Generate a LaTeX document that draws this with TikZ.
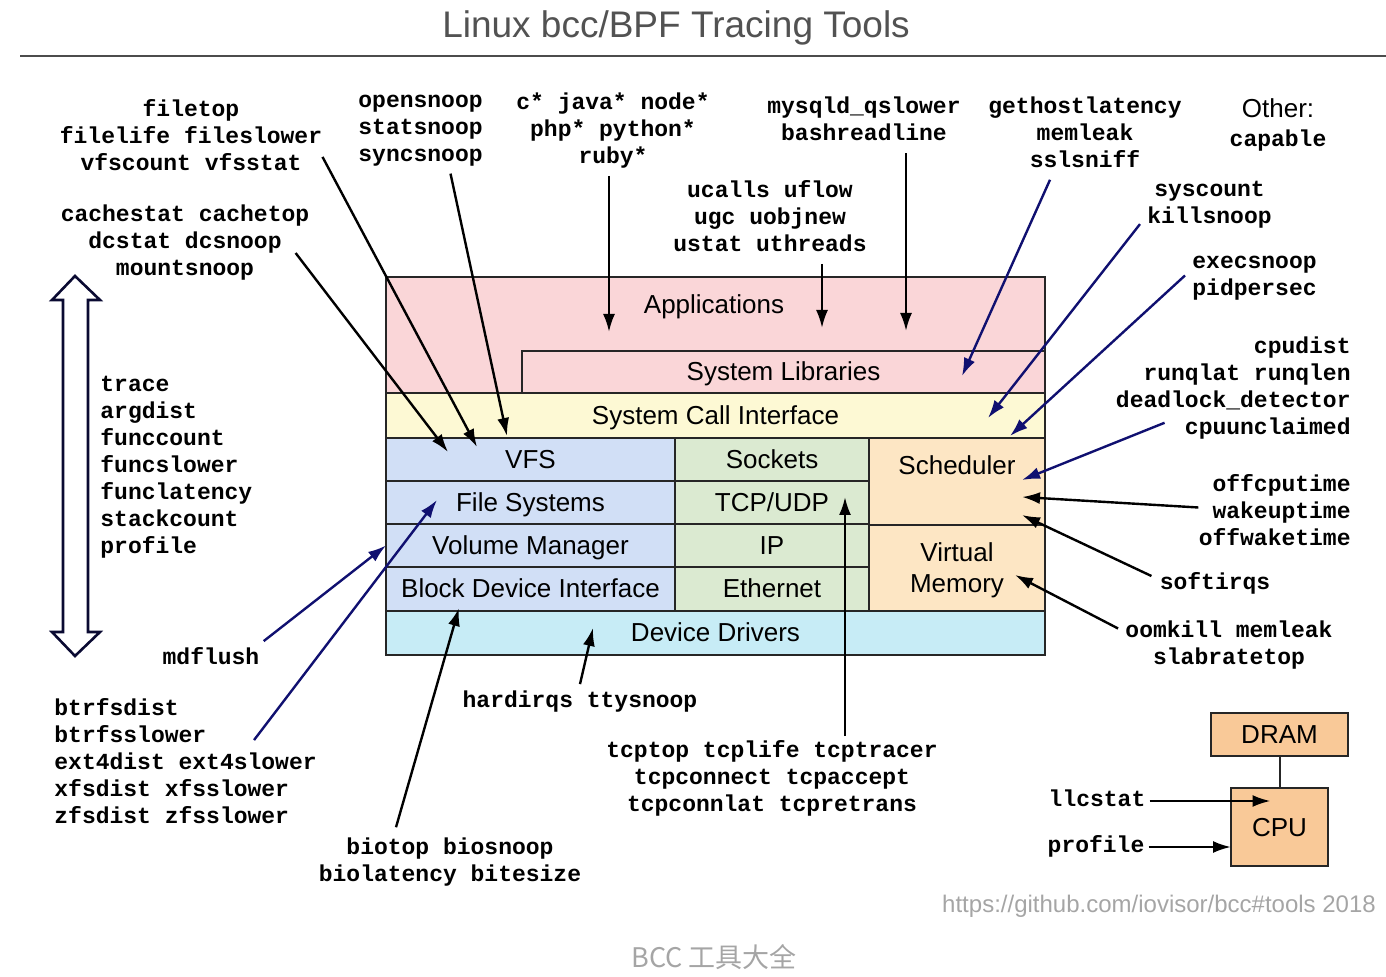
\documentclass[tikz,border=0pt]{standalone}
\usepackage{fontspec}
\setmainfont{Liberation Sans}
\newfontfamily\toolmono{Liberation Mono}
\newfontfamily\cjkfont{Noto Sans CJK SC}
\usetikzlibrary{positioning,arrows.meta,calc}
\definecolor{appcol}{RGB}{250,214,216}
\definecolor{scicol}{RGB}{253,249,212}
\definecolor{fscol}{RGB}{209,223,246}
\definecolor{netcol}{RGB}{219,234,209}
\definecolor{cpucol}{RGB}{253,230,196}
\definecolor{drvcol}{RGB}{199,236,246}
\definecolor{chipcol}{RGB}{249,201,152}
\definecolor{navyarr}{RGB}{16,16,112}
\definecolor{navydark}{RGB}{10,10,50}
\definecolor{greytext}{RGB}{165,165,165}
\tikzset{
  stackbox/.style={ % one layer of the kernel stack
    draw=black!85, line width=1pt, rectangle,
    inner sep=0pt, outer sep=0pt, text=black, align=center,
    font=\fontsize{13}{15.5}\selectfont,
    text height=9.4pt, text depth=0.4pt
  },
  stacktext/.style={ % label placed inside a layer
    font=\fontsize{13}{15.5}\selectfont, inner sep=0pt,
    text height=9.4pt, text depth=0.4pt
  },
  toolnames/.style={ % a group of bcc tool names
    font=\toolmono\bfseries\fontsize{11.5}{13.5}\selectfont,
    align=center, inner sep=2pt, yshift=-2pt,
    execute at begin node=\strut, execute at end node=\strut
  },
  probe/.style={-{Latex[length=9pt,width=6pt]}, line width=1.2pt, black},
  probenavy/.style={probe, navyarr}
}

\begin{document}
\begin{tikzpicture}[x=0.5pt, y=-0.5pt]
  \useasboundingbox (0,0) rectangle (1386,977);

  % title
  \node[font=\fontsize{18.5}{22}\selectfont, text=black!68] (title) at (676,28) {Linux bcc/BPF Tracing Tools};
  \draw[black!70, line width=0.8pt] (20,56) -- (1386,56);

  % kernel stack
  \node[stackbox, fill=appcol, minimum width=329.5pt, minimum height=58pt, anchor=north west] (apps) at (386,277) {};
  \node[stackbox, fill=appcol, minimum width=261.5pt, minimum height=21pt, anchor=south east] (syslib) at (apps.south east) {System Libraries};
  \node[stackbox, fill=scicol, minimum width=329.5pt, minimum height=22.5pt, below=0pt of apps] (sci) {System Call Interface};
  \node[stackbox, fill=fscol, minimum width=144.5pt, minimum height=21.5pt, below right=0pt and 0pt of sci.south west] (vfs) {VFS};
  \node[stackbox, fill=fscol, minimum width=144.5pt, minimum height=21.5pt, below=0pt of vfs] (fsys) {File Systems};
  \node[stackbox, fill=fscol, minimum width=144.5pt, minimum height=21.5pt, below=0pt of fsys] (volmgr) {Volume Manager};
  \node[stackbox, fill=fscol, minimum width=144.5pt, minimum height=22pt, below=0pt of volmgr] (bdi) {Block Device Interface};
  \node[stackbox, fill=netcol, minimum width=97pt, minimum height=21.5pt, right=0pt of vfs] (sockets) {Sockets};
  \node[stackbox, fill=netcol, minimum width=97pt, minimum height=21.5pt, right=0pt of fsys] (tcpudp) {TCP/UDP};
  \node[stackbox, fill=netcol, minimum width=97pt, minimum height=21.5pt, right=0pt of volmgr] (ip) {IP};
  \node[stackbox, fill=netcol, minimum width=97pt, minimum height=22pt, right=0pt of bdi] (ether) {Ethernet};
  \node[stackbox, fill=cpucol, minimum width=88pt, minimum height=43.5pt, below left=0pt and 0pt of sci.south east] (sched) {};
  \node[stackbox, fill=cpucol, minimum width=88pt, minimum height=43pt, below=0pt of sched] (vmem) {};
  \node[stackbox, fill=drvcol, minimum width=329.5pt, minimum height=22pt, below right=0pt and 0pt of bdi.south west] (drivers) {Device Drivers};
  \node[stacktext] (appsl) at (714,305) {Applications};
  \node[stacktext] (schedl) at (957,466) {Scheduler};
  \node[stacktext] (vmeml1) at (957,553) {Virtual};
  \node[stacktext] (vmeml2) at (957,584) {Memory};

  % hardware
  \node[stackbox, fill=chipcol, minimum width=68.5pt, minimum height=21.5pt] (dram) at (1279.5,734.5) {DRAM};
  \node[stackbox, fill=chipcol, minimum width=48.5pt, minimum height=39pt, below=16pt of dram] (cpu) {CPU};
  \draw[black!85, line width=1pt] (dram) -- (cpu);

  % whole-stack tools
  \draw[navydark, line width=1.3pt, fill=white] (75,276) -- (100,300) -- (88,300) -- (88,632) -- (100,632)
    -- (75,656) -- (52,632) -- (63,632) -- (63,300) -- (52,300) -- cycle;

  % tool names
  \node[toolnames] (fileblk) at (191,135) {filetop\\filelife fileslower\\vfscount vfsstat};
  \node[toolnames] (cacheblk) at (185,240) {cachestat cachetop\\dcstat dcsnoop\\mountsnoop};
  \node[toolnames, align=left, anchor=west] (openblk) at (354,128) {opensnoop\\statsnoop\\syncsnoop};
  \node[toolnames] (langblk) at (613,128) {c* java* node*\\php* python*\\ruby*};
  \node[toolnames] (ucallblk) at (770,216) {ucalls uflow\\ugc uobjnew\\ustat uthreads};
  \node[toolnames] (mysqlblk) at (864,119) {mysqld\_qslower\\bashreadline};
  \node[toolnames] (hostblk) at (1085,132) {gethostlatency\\memleak\\sslsniff};
  \node[stacktext] (otherl) at (1278,109) {Other:};
  \node[toolnames, below=0pt of otherl] (capable) {capable};
  \node[toolnames] (sysblk) at (1209.5,202.5) {syscount\\killsnoop};
  \node[toolnames, align=left, anchor=west] (execblk) at (1188,275.5) {execsnoop\\pidpersec};
  \node[toolnames, align=right, anchor=east] (cpublk) at (1355,385.5) {cpudist\\runqlat runqlen\\deadlock\_detector\\cpuunclaimed};
  \node[toolnames, align=right, anchor=east] (offcpublk) at (1355,510.5) {offcputime\\wakeuptime\\offwaketime};
  \node[toolnames] (softirq) at (1215,580) {softirqs};
  \node[toolnames] (oomblk) at (1229,642.5) {oomkill memleak\\slabratetop};
  \node[toolnames, align=left, anchor=west] (funcblk) at (96,465) {trace\\argdist\\funccount\\funcslower\\funclatency\\stackcount\\profile};
  \node[toolnames] (mdflush) at (211,655) {mdflush};
  \node[toolnames, align=left, anchor=west] (fsblk) at (50,761) {btrfsdist\\btrfsslower\\ext4dist ext4slower\\xfsdist xfsslower\\zfsdist zfsslower};
  \node[toolnames] (bioblk) at (450,859.5) {biotop biosnoop\\biolatency bitesize};
  \node[toolnames] (hardirq) at (580,698) {hardirqs ttysnoop};
  \node[toolnames] (tcpblk) at (772,776) {tcptop tcplife tcptracer\\tcpconnect tcpaccept\\tcpconnlat tcpretrans};
  \node[toolnames] (llc) at (1097,797) {llcstat};
  \node[toolnames] (cyc) at (1096,843) {profile};

  % footer
  \node[text=greytext, font=\fontsize{12}{14}\selectfont] (url) at (1159,906) {https://github.com/iovisor/bcc\#tools 2018};
  \node[text=greytext, font=\cjkfont\fontsize{13.5}{16}\selectfont] (cjklbl) at (714,957) {BCC 工具大全};

  % arrow targets
  \coordinate (tVfsA) at (477,447);
  \coordinate (tVfsB) at (448,452);
  \coordinate (tVfsC) at (507,436);
  \coordinate (tAppsA) at (609,332);
  \coordinate (tAppsB) at (822,328);
  \coordinate (tAppsC) at (906,331);
  \coordinate (tLib) at (962,376);
  \coordinate (tSci) at (988,418);
  \coordinate (tSchedA) at (1010,436);
  \coordinate (tSchedB) at (1022,480);
  \coordinate (tSchedC) at (1022,497);
  \coordinate (tSchedD) at (1022,515);
  \coordinate (tVmem) at (1015,575);
  \coordinate (tFsys) at (437,500);
  \coordinate (tBdi) at (459,608);
  \coordinate (tDrv) at (593,628);
  \coordinate (tTcp) at (845,497);

  % tools to layers
  \draw[probe] ([shift={(-4,-26)}]fileblk.south east) -- (tVfsA);
  \draw[probe] ([shift={(-18,9)}]cacheblk.east) -- (tVfsB);
  \draw[probe] ([shift={(30,0)}]openblk.south) -- (tVfsC);
  \draw[probe] (tAppsA |- langblk.south) -- (tAppsA);
  \draw[probe] (tAppsB |- ucallblk.south) -- (tAppsB);
  \draw[probe] (tAppsC |- mysqlblk.south) -- (tAppsC);
  \draw[probenavy] ([shift={(-35,0)}]hostblk.south) -- (tLib);
  \draw[probenavy] ([shift={(-3,-12)}]sysblk.south west) -- (tSci);
  \draw[probenavy] ([shift={(-3,-4)}]execblk.west) -- (tSchedA);
  \draw[probenavy] ([shift={(53,-24)}]cpublk.south west) -- (tSchedB);
  \draw[probe] ([shift={(4,-7)}]offcpublk.west) -- (tSchedC);
  \draw[probe] ([shift={(-4,-8)}]softirq.west) -- (tSchedD);
  \draw[probe] ([shift={(-3,-18)}]oomblk.west) -- (tVmem);
  \draw[probenavy] (mdflush.north east) -- (volmgr.west);
  \draw[probenavy] ([shift={(-67,46)}]fsblk.north east) -- (tFsys);
  \draw[probe] ([shift={(-54,-6)}]bioblk.north) -- (tBdi);
  \draw[probe] (hardirq.north) -- (tDrv);
  \draw[probe] (tTcp |- tcpblk.north) -- (tTcp);
  \draw[probe, shorten >=4.5pt] (llc.east) -- (llc.east -| cpu.center);
  \draw[probe] (cyc.east) -- (cyc.east -| cpu.west);
\end{tikzpicture}
\end{document}
